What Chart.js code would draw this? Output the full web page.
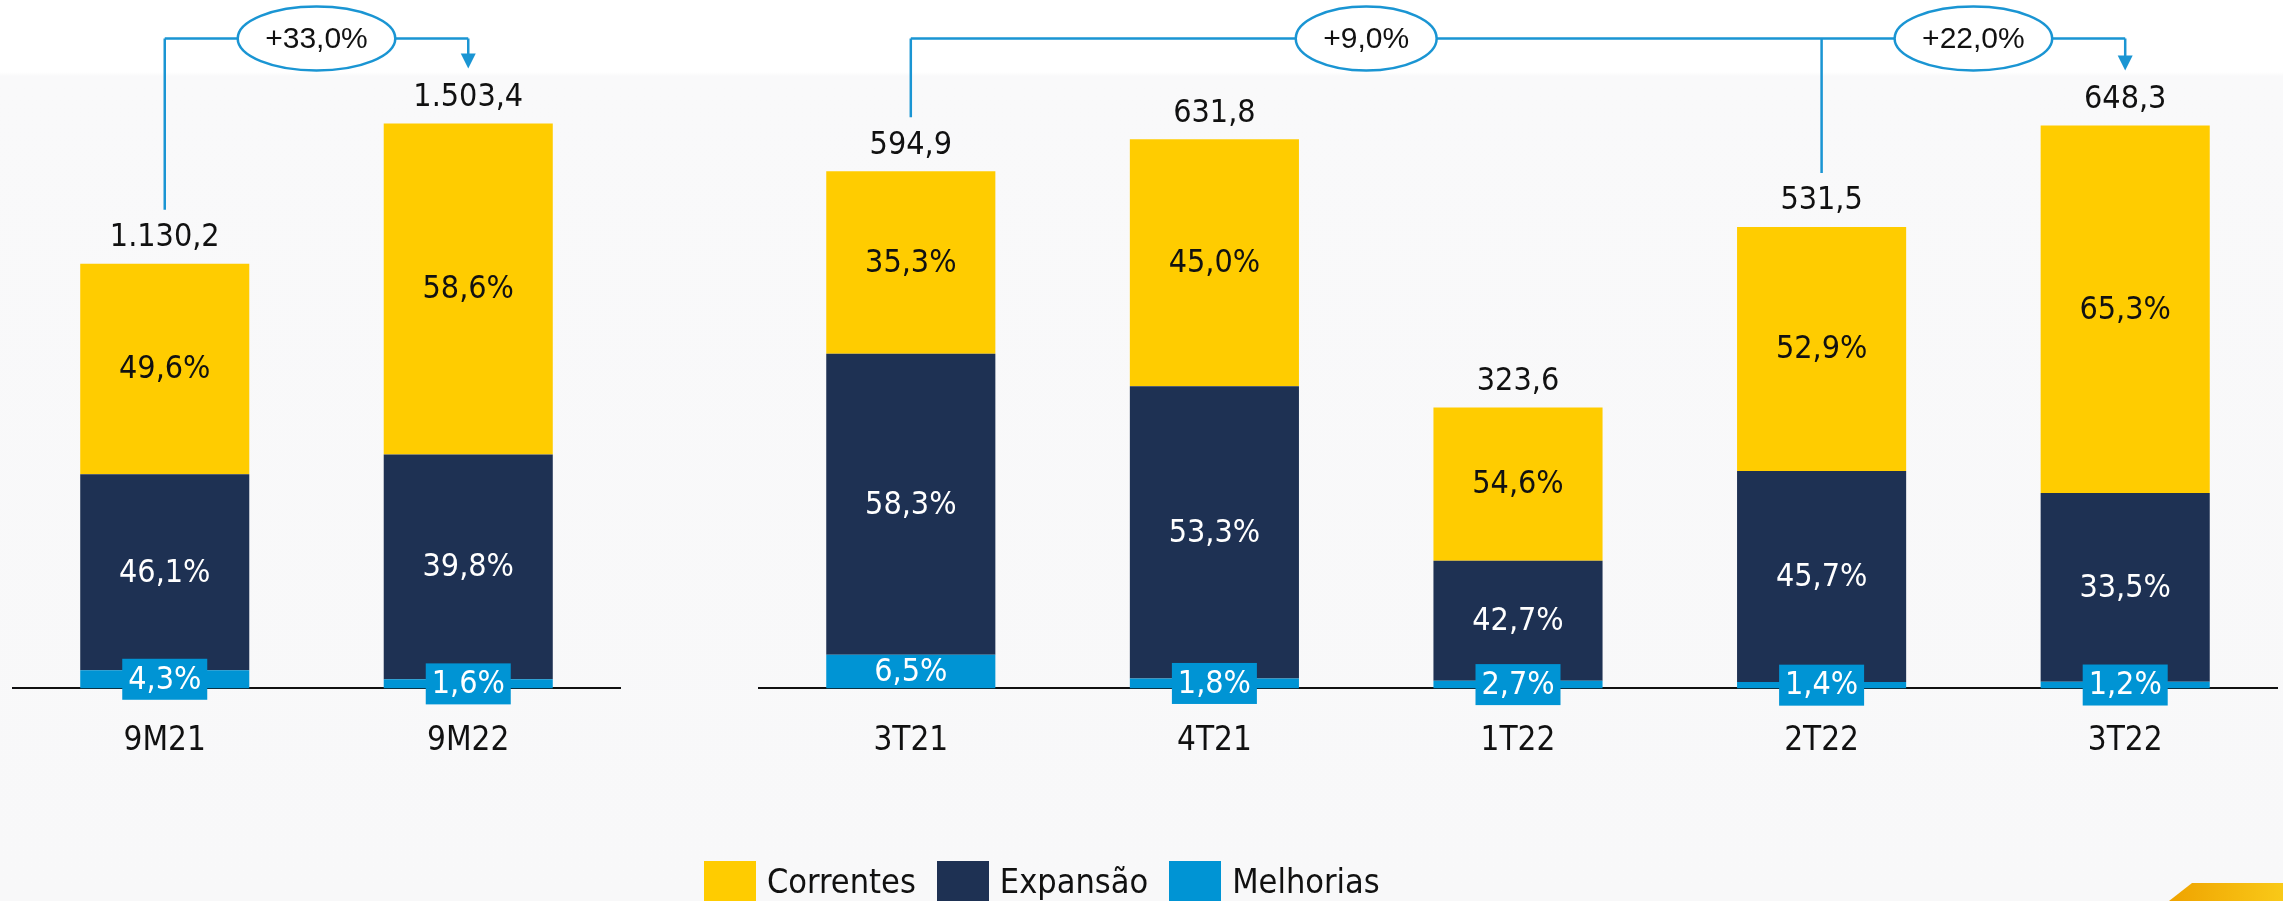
<!DOCTYPE html>
<html>
<head>
<meta charset="utf-8">
<script src="https://cdn.jsdelivr.net/npm/chart.js@4.4.0/dist/chart.umd.min.js"></script>
<style>
  html, body { margin: 0; padding: 0; }
  body {
    width: 2283px; height: 901px; position: relative; overflow: hidden;
    background: linear-gradient(to bottom, #ffffff 0px, #ffffff 72px, #f9f9fa 76px, #f8f8f9 100%);
    font-family: 'Liberation Sans Narrow', 'DejaVu Sans Condensed', sans-serif;
  }
  .wrap { position: absolute; top: 0; height: 901px; }
  #leftWrap { left: 0; width: 640px; }
  #rightWrap { left: 700px; width: 1583px; }
  #legend { position: absolute; left: 704px; top: 861px; display: flex; align-items: center; }
  #legend .sw { width: 52px; height: 40px; }
  #legend .tx { font-size: 34px; color: #111; margin: 0 21px 0 11px; line-height: 40px; }
  #corner {
    position: absolute; left: 2169px; top: 883px; width: 114px; height: 18px;
    background: linear-gradient(to right, #efa300, #f9c918);
    clip-path: polygon(23px 0, 100% 0, 100% 100%, 0 100%);
  }
</style>
</head>
<body>
<div class="wrap" id="leftWrap"><canvas id="leftChart"></canvas></div>
<div class="wrap" id="rightWrap"><canvas id="rightChart"></canvas></div>
<div id="legend"></div>
<div id="corner"></div>
<script>
// accumulated period
var leftCategories = ['9M21', '9M22'];
var leftTotals = [1130.2, 1503.4];
var leftCorrentes = [49.6, 58.6];
var leftExpansao = [46.1, 39.8];
var leftMelhorias = [4.3, 1.6];
var leftGrowth = [{ from: 0, to: 1, label: '+33,0%' }];

// quarters
var rightCategories = ['3T21', '4T21', '1T22', '2T22', '3T22'];
var rightTotals = [594.9, 631.8, 323.6, 531.5, 648.3];
var rightCorrentes = [35.3, 45.0, 54.6, 52.9, 65.3];
var rightExpansao = [58.3, 53.3, 42.7, 45.7, 33.5];
var rightMelhorias = [6.5, 1.8, 2.7, 1.4, 1.2];
var rightGrowth = [
    { from: 0, to: 4, label: '+9,0%' },
    { from: 3, to: 4, label: '+22,0%' }
];

var FONT = "'Liberation Sans Narrow', 'DejaVu Sans Condensed', sans-serif";
var YELLOW = '#ffcc00';
var NAVY = '#1e3153';
var BLUE = '#0094d4';
var LINE = '#1a95d3';

function fmtNum(v) {
    var parts = v.toFixed(1).split('.');
    parts[0] = parts[0].replace(/\B(?=(\d{3})+(?!\d))/g, '.');
    return parts.join(',');
}
function fmtPct(v) {
    return v.toFixed(1).replace('.', ',') + '%';
}
function part(totals, pct) {
    return totals.map(function (t, i) { return t * pct[i] / 100; });
}

var barLabels = {
    id: 'barLabels',
    afterDatasetsDraw: function (chart, args, opts) {
        var ctx = chart.ctx;
        ctx.save();
        ctx.font = '32px ' + FONT;
        ctx.textAlign = 'center';
        ctx.textBaseline = 'middle';
        chart.data.datasets.forEach(function (ds, di) {
            chart.getDatasetMeta(di).data.forEach(function (bar, i) {
                var cy = (bar.y + bar.base) / 2;
                if (ds.boxed && Math.abs(bar.base - bar.y) < 30) {
                    ctx.fillStyle = ds.backgroundColor;
                    ctx.fillRect(bar.x - 42.5, cy - 20.5, 85, 41);
                }
                ctx.fillStyle = ds.textColor;
                ctx.fillText(fmtPct(ds.pct[i]), bar.x, cy + 1);
            });
        });
        var top = chart.getDatasetMeta(chart.data.datasets.length - 1).data;
        ctx.fillStyle = '#111';
        top.forEach(function (bar, i) {
            ctx.fillText(fmtNum(opts.totals[i]), bar.x, bar.y - 26);
        });
        ctx.restore();
    }
};

var brackets = {
    id: 'brackets',
    afterDraw: function (chart, args, opts) {
        var ctx = chart.ctx;
        var bars = chart.getDatasetMeta(chart.data.datasets.length - 1).data;
        var lineY = 38.5;
        var starts = [], ends = [];
        opts.growth.forEach(function (g) {
            if (starts.indexOf(g.from) < 0) starts.push(g.from);
            if (ends.indexOf(g.to) < 0) ends.push(g.to);
        });
        var xs = starts.concat(ends).map(function (i) { return bars[i].x; });
        var minX = Math.min.apply(null, xs), maxX = Math.max.apply(null, xs);

        ctx.save();
        ctx.strokeStyle = LINE;
        ctx.fillStyle = LINE;
        ctx.lineWidth = 2.5;
        ctx.beginPath();
        ctx.moveTo(minX, lineY);
        ctx.lineTo(maxX, lineY);
        starts.forEach(function (i) {
            ctx.moveTo(bars[i].x, lineY);
            ctx.lineTo(bars[i].x, bars[i].y - 54);
        });
        ends.forEach(function (i) {
            ctx.moveTo(bars[i].x, lineY);
            ctx.lineTo(bars[i].x, bars[i].y - 68);
        });
        ctx.stroke();
        ends.forEach(function (i) {
            var tip = bars[i].y - 55;
            ctx.beginPath();
            ctx.moveTo(bars[i].x - 7.5, tip - 15);
            ctx.lineTo(bars[i].x + 7.5, tip - 15);
            ctx.lineTo(bars[i].x, tip);
            ctx.closePath();
            ctx.fill();
        });

        ctx.font = "30px 'Liberation Sans', Arial, sans-serif";
        ctx.textAlign = 'center';
        ctx.textBaseline = 'middle';
        opts.growth.forEach(function (g) {
            var x0 = bars[g.from].x;
            var next = xs.filter(function (x) { return x > x0; });
            var cx = (x0 + Math.min.apply(null, next)) / 2;
            var w = ctx.measureText(g.label).width + 55;
            ctx.beginPath();
            ctx.ellipse(cx, lineY, w / 2, 32, 0, 0, Math.PI * 2);
            ctx.fillStyle = '#ffffff';
            ctx.fill();
            ctx.lineWidth = 2.5;
            ctx.stroke();
            ctx.fillStyle = '#111';
            ctx.fillText(g.label, cx, lineY + 1);
        });
        ctx.restore();
    }
};

function makeChart(id, cats, totals, corr, exp, melh, growth, yMax, pad) {
    return new Chart(document.getElementById(id), {
        type: 'bar',
        data: {
            labels: cats,
            datasets: [
                { label: 'Melhorias', data: part(totals, melh), pct: melh, backgroundColor: BLUE, textColor: '#ffffff', boxed: true },
                { label: 'Expansão', data: part(totals, exp), pct: exp, backgroundColor: NAVY, textColor: '#ffffff' },
                { label: 'Correntes', data: part(totals, corr), pct: corr, backgroundColor: YELLOW, textColor: '#111111' }
            ]
        },
        options: {
            responsive: true,
            maintainAspectRatio: false,
            animation: false,
            layout: { padding: pad },
            datasets: { bar: { barPercentage: 0.557, categoryPercentage: 1, borderWidth: 0 } },
            scales: {
                x: {
                    stacked: true,
                    grid: { display: false, drawTicks: false },
                    border: { display: true, color: '#111', width: 2 },
                    ticks: { color: '#111', padding: 33, font: { family: FONT, size: 33 } }
                },
                y: { stacked: true, display: false, min: 0, max: yMax }
            },
            plugins: {
                legend: { display: false },
                tooltip: { enabled: false },
                barLabels: { totals: totals },
                brackets: { growth: growth }
            }
        },
        plugins: [barLabels, brackets]
    });
}

var leftChart = makeChart('leftChart', leftCategories, leftTotals, leftCorrentes, leftExpansao, leftMelhorias,
    leftGrowth, 1800, { left: 13, right: 20, top: 12, bottom: 107 });
var rightChart = makeChart('rightChart', rightCategories, rightTotals, rightCorrentes, rightExpansao, rightMelhorias,
    rightGrowth, 779, { left: 59, right: 6, top: 12, bottom: 107 });

// legend built from the chart's datasets, top of stack first
var legend = document.getElementById('legend');
rightChart.data.datasets.slice().reverse().forEach(function (ds) {
    var sw = document.createElement('div');
    sw.className = 'sw';
    sw.style.background = ds.backgroundColor;
    var tx = document.createElement('div');
    tx.className = 'tx';
    tx.textContent = ds.label;
    legend.appendChild(sw);
    legend.appendChild(tx);
});
</script>
</body>
</html>
